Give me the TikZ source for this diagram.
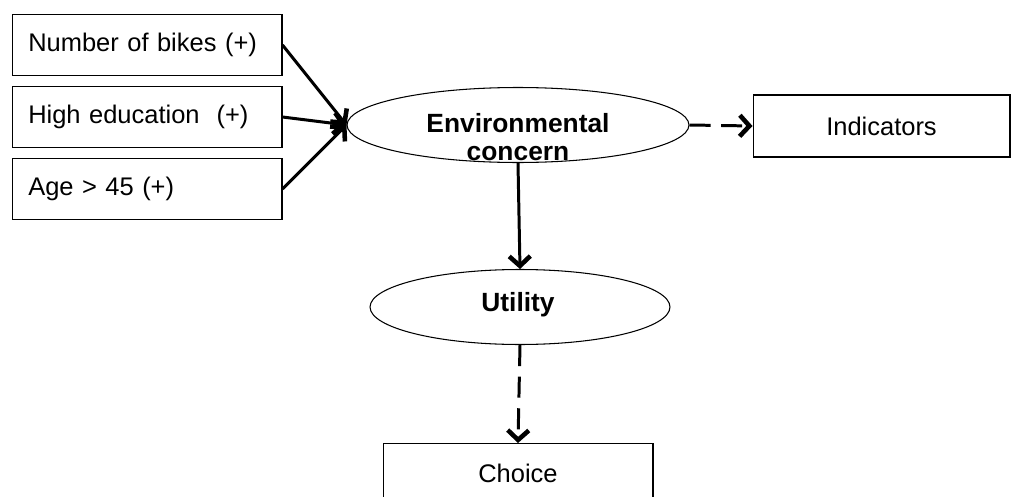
\documentclass[tikz,border=0pt]{standalone}
\usepackage{fontspec}
\setmainfont{Liberation Sans}
\usetikzlibrary{arrows.meta,shapes.geometric}

\begin{document}
\begin{tikzpicture}[x=0.02cm, y=-0.02cm, >={Straight Barb[length=5.5pt,width=12pt,line width=2.6pt]}, line width=1.7pt]
    \tikzstyle{cause}=[rectangle, draw, line width=0.6pt, text width=4.75cm, inner xsep=0.325cm, inner ysep=0pt, minimum height=1.22cm, align=left, font=\fontsize{14.5}{17}\selectfont]
    \tikzstyle{obs}=[rectangle, draw, line width=0.6pt, inner sep=0pt, font=\fontsize{14.5}{17}\selectfont]
    \tikzstyle{latent}=[ellipse, draw, line width=0.6pt, inner sep=0pt]
    \tikzstyle{lbl}=[align=center, inner sep=0pt, font=\bfseries\fontsize{15}{16}\selectfont]
    \tikzstyle{dashedarrow}=[dash pattern=on 12pt off 6pt]

    \useasboundingbox (0,0) rectangle (1011,497);
    \clip (0,0) rectangle (1011,497);

    \node[cause] (bikes) at (147,45) {Number of bikes (+)};
    \node[cause] (edu) at (147,117) {High education~ (+)};
    \node[cause] (age) at (147,189) {Age > 45 (+)};

    \node[latent, minimum width=6.84cm, minimum height=1.5cm] (env) at (518,125) {};
    \node[lbl] (envlbl) at (518,137) {Environmental\\concern};
    \node[latent, minimum width=6cm, minimum height=1.5cm] (util) at (520,307) {};
    \node[lbl] (utillbl) at (518,305) {Utility};

    \node[obs, minimum width=5.14cm, minimum height=1.24cm] (ind) at (881.5,126) {Indicators};
    \node[obs, minimum width=5.4cm, minimum height=1.2cm, anchor=north] (choice) at (518,443) {Choice};

    \draw[->] (bikes.east) -- (env.west);
    \draw[->] (edu.east) -- (env.west);
    \draw[->] (age.east) -- (env.west);
    \draw[->] (env.south) -- (util.north);
    \draw[->, dashedarrow] (env.east) -- (ind.west);
    \draw[->, dashedarrow] (util.south) -- (choice.north);

\end{tikzpicture}
\end{document}
